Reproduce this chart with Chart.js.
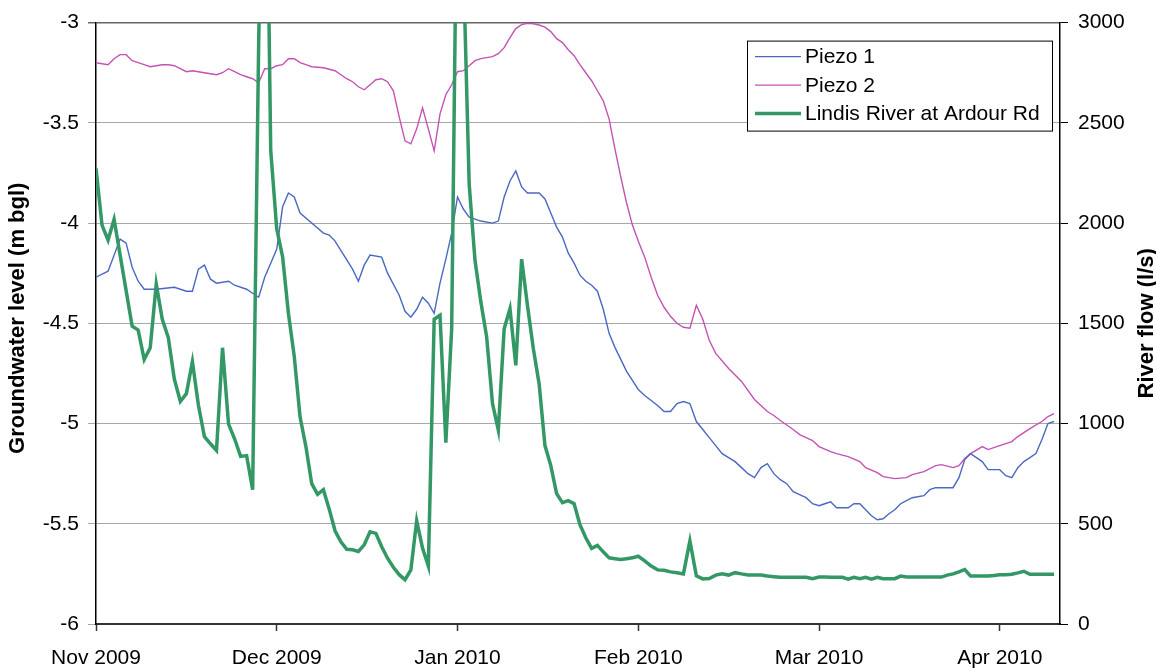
<!DOCTYPE html>
<html lang="en">
<head>
<meta charset="UTF-8" />
<title>Groundwater level and Lindis River flow</title>
<script src="https://cdn.jsdelivr.net/npm/chart.js@4.4.1/dist/chart.umd.min.js"></script>
<style>
  html, body { margin: 0; padding: 0; background: #fff; }
  .chart-container { width: 1156px; height: 670px; }
</style>
</head>
<body>
<div class="chart-container"><canvas id="flowChart"></canvas></div>
<script>
// x axis: one tick per month, months drawn equal width
const monthLabels = ["Nov 2009", "Dec 2009", "Jan 2010", "Feb 2010", "Mar 2010", "Apr 2010"];

// Piezo 1 groundwater level (m bgl)
const piezo1Dates = [
  "2009-11-01","2009-11-03","2009-11-04","2009-11-05","2009-11-06","2009-11-07","2009-11-08","2009-11-09","2009-11-11","2009-11-14",
  "2009-11-16","2009-11-17","2009-11-18","2009-11-19","2009-11-20","2009-11-21","2009-11-23","2009-11-24","2009-11-26","2009-11-27",
  "2009-11-28","2009-11-29","2009-11-30","2009-12-01","2009-12-02","2009-12-03","2009-12-04","2009-12-05","2009-12-07","2009-12-09",
  "2009-12-10","2009-12-11","2009-12-14","2009-12-15","2009-12-16","2009-12-17","2009-12-19","2009-12-20","2009-12-22","2009-12-23",
  "2009-12-24","2009-12-25","2009-12-26","2009-12-27","2009-12-28","2009-12-29","2009-12-30","2009-12-31","2010-01-01","2010-01-02",
  "2010-01-03","2010-01-04","2010-01-05","2010-01-07","2010-01-08","2010-01-09","2010-01-10","2010-01-11","2010-01-12","2010-01-13",
  "2010-01-14","2010-01-15","2010-01-16","2010-01-17","2010-01-18","2010-01-19","2010-01-20","2010-01-21","2010-01-22","2010-01-23",
  "2010-01-24","2010-01-25","2010-01-26","2010-01-27","2010-01-28","2010-01-29","2010-01-30","2010-01-31","2010-02-01","2010-02-02",
  "2010-02-03","2010-02-04","2010-02-05","2010-02-06","2010-02-07","2010-02-08","2010-02-09","2010-02-10","2010-02-11","2010-02-12",
  "2010-02-13","2010-02-14","2010-02-15","2010-02-16","2010-02-17","2010-02-18","2010-02-19","2010-02-20","2010-02-21","2010-02-22",
  "2010-02-23","2010-02-24","2010-02-25","2010-02-26","2010-02-27","2010-02-28","2010-03-01","2010-03-02","2010-03-03","2010-03-04",
  "2010-03-06","2010-03-07","2010-03-08","2010-03-09","2010-03-10","2010-03-11","2010-03-12","2010-03-13","2010-03-14","2010-03-15",
  "2010-03-16","2010-03-17","2010-03-19","2010-03-20","2010-03-21","2010-03-24","2010-03-25","2010-03-26","2010-03-27","2010-03-28",
  "2010-03-29","2010-03-30","2010-04-01","2010-04-02","2010-04-03","2010-04-04","2010-04-05","2010-04-06","2010-04-07","2010-04-08",
  "2010-04-09","2010-04-10"
];
const piezo1Level = [
  -4.27,-4.24,-4.16,-4.08,-4.10,-4.22,-4.29,-4.33,-4.33,-4.32,
  -4.34,-4.34,-4.23,-4.21,-4.28,-4.30,-4.29,-4.31,-4.33,-4.35,
  -4.37,-4.27,-4.20,-4.13,-3.92,-3.85,-3.87,-3.95,-4.00,-4.05,
  -4.06,-4.09,-4.23,-4.29,-4.21,-4.16,-4.17,-4.25,-4.36,-4.44,
  -4.47,-4.43,-4.37,-4.40,-4.45,-4.30,-4.18,-4.05,-3.87,-3.93,
  -3.97,-3.98,-3.99,-4.00,-3.99,-3.87,-3.79,-3.74,-3.82,-3.85,
  -3.85,-3.85,-3.88,-3.95,-4.02,-4.07,-4.15,-4.20,-4.26,-4.29,
  -4.31,-4.34,-4.43,-4.55,-4.62,-4.68,-4.74,-4.785,-4.83,-4.86,
  -4.885,-4.91,-4.94,-4.94,-4.90,-4.89,-4.90,-4.99,-5.03,-5.07,
  -5.11,-5.15,-5.17,-5.19,-5.22,-5.25,-5.27,-5.22,-5.20,-5.25,
  -5.28,-5.30,-5.34,-5.355,-5.37,-5.40,-5.41,-5.40,-5.39,-5.42,
  -5.42,-5.40,-5.40,-5.43,-5.46,-5.48,-5.475,-5.45,-5.43,-5.40,
  -5.385,-5.37,-5.36,-5.33,-5.32,-5.32,-5.27,-5.18,-5.15,-5.17,
  -5.19,-5.23,-5.23,-5.26,-5.27,-5.22,-5.19,-5.17,-5.15,-5.08,
  -5.00,-4.99
];

// Piezo 2 groundwater level (m bgl)
const piezo2Dates = [
  "2009-11-01","2009-11-03","2009-11-04","2009-11-05","2009-11-06","2009-11-07","2009-11-08","2009-11-09","2009-11-10","2009-11-12",
  "2009-11-13","2009-11-14","2009-11-15","2009-11-16","2009-11-17","2009-11-19","2009-11-20","2009-11-21","2009-11-22","2009-11-23",
  "2009-11-24","2009-11-25","2009-11-26","2009-11-27","2009-11-28","2009-11-29","2009-11-30","2009-12-01","2009-12-02","2009-12-03",
  "2009-12-04","2009-12-05","2009-12-06","2009-12-07","2009-12-09","2009-12-11","2009-12-12","2009-12-13","2009-12-14","2009-12-15",
  "2009-12-16","2009-12-17","2009-12-18","2009-12-19","2009-12-20","2009-12-21","2009-12-22","2009-12-23","2009-12-24","2009-12-25",
  "2009-12-26","2009-12-27","2009-12-28","2009-12-29","2009-12-30","2009-12-31","2010-01-01","2010-01-02","2010-01-03","2010-01-04",
  "2010-01-05","2010-01-07","2010-01-08","2010-01-09","2010-01-10","2010-01-11","2010-01-12","2010-01-13","2010-01-14","2010-01-15",
  "2010-01-16","2010-01-17","2010-01-18","2010-01-19","2010-01-20","2010-01-21","2010-01-22","2010-01-23","2010-01-24","2010-01-25",
  "2010-01-26","2010-01-27","2010-01-28","2010-01-29","2010-01-30","2010-01-31","2010-02-01","2010-02-02","2010-02-03","2010-02-04",
  "2010-02-05","2010-02-06","2010-02-07","2010-02-08","2010-02-09","2010-02-10","2010-02-11","2010-02-12","2010-02-13","2010-02-15",
  "2010-02-17","2010-02-19","2010-02-20","2010-02-21","2010-02-22","2010-02-23","2010-02-25","2010-02-26","2010-02-27","2010-02-28",
  "2010-03-01","2010-03-03","2010-03-04","2010-03-06","2010-03-08","2010-03-09","2010-03-11","2010-03-12","2010-03-14","2010-03-16",
  "2010-03-17","2010-03-19","2010-03-21","2010-03-22","2010-03-24","2010-03-25","2010-03-26","2010-03-27","2010-03-29","2010-03-30",
  "2010-04-01","2010-04-03","2010-04-04","2010-04-06","2010-04-08","2010-04-09","2010-04-10"
];
const piezo2Level = [
  -3.20,-3.21,-3.18,-3.16,-3.16,-3.19,-3.20,-3.21,-3.22,-3.21,
  -3.21,-3.215,-3.23,-3.245,-3.24,-3.25,-3.255,-3.26,-3.25,-3.23,
  -3.245,-3.26,-3.27,-3.28,-3.30,-3.23,-3.23,-3.215,-3.21,-3.18,
  -3.18,-3.20,-3.21,-3.22,-3.225,-3.24,-3.26,-3.28,-3.295,-3.32,
  -3.335,-3.31,-3.285,-3.28,-3.295,-3.34,-3.47,-3.59,-3.605,-3.53,
  -3.425,-3.53,-3.64,-3.455,-3.36,-3.31,-3.245,-3.24,-3.215,-3.19,
  -3.18,-3.17,-3.155,-3.125,-3.075,-3.03,-3.01,-3.003,-3.006,-3.012,
  -3.023,-3.045,-3.08,-3.10,-3.135,-3.165,-3.21,-3.25,-3.29,-3.34,
  -3.39,-3.48,-3.63,-3.77,-3.90,-4.01,-4.09,-4.17,-4.27,-4.36,
  -4.42,-4.465,-4.50,-4.52,-4.525,-4.41,-4.48,-4.585,-4.65,-4.725,
  -4.79,-4.88,-4.91,-4.94,-4.96,-4.985,-5.03,-5.055,-5.07,-5.085,
  -5.115,-5.14,-5.15,-5.165,-5.19,-5.22,-5.245,-5.265,-5.275,-5.27,
  -5.255,-5.24,-5.21,-5.205,-5.22,-5.21,-5.175,-5.15,-5.115,-5.13,
  -5.11,-5.09,-5.065,-5.025,-4.99,-4.965,-4.95
];

// Lindis River at Ardour Rd, daily flow (l/s), from 1 Nov 2009
const riverStart = [2009, 11, 1];
const riverNov = [2273,1990,1915,2019,1841,1663,1485,1466,1319,1378,1696,1520,1429,1222,1110,1149,1309,1091,934,899,866,1378,997,924,836,840,670,2900,4600,2362];
const riverDec = [1970,1833,1550,1335,1032,885,700,647,670,573,465,410,373,370,362,395,460,452,385,328,283,246,221,270,515,379,289,1520,1540,905,1472];
const riverJan = [4000,3300,2195,1814,1608,1432,1100,967,1472,1573,1290,1820,1589,1374,1198,890,790,650,605,615,600,495,430,377,392,360,330,326,322,326,330];
const riverFeb = [338,315,289,270,268,260,256,250,415,240,225,227,244,250,244,256,250,245,244,244,239,236,233,233,233,233,233,226];
const riverMar = [234,234,233,233,233,224,233,226,233,224,233,226,226,226,239,235,234,234,234,234,234,234,244,250,260,272,239,239,239,239,242];
const riverApr = [246,246,248,255,263,248,248,248,248,248];

const legendLabels = ["Piezo 1", "Piezo 2", "Lindis River at Ardour Rd"];
const axisTitles = ["Groundwater level (m bgl)", "River flow (l/s)"];

// position of a day on the month axis (each month one unit wide)
function monthPos(y, m, d) {
  const daysInMonth = new Date(y, m, 0).getDate();
  return (y - 2009) * 12 + (m - 11) + (d - 1) / daysInMonth;
}
function posOfString(s) {
  const [y, m, d] = s.split("-").map(Number);
  return monthPos(y, m, d);
}

const piezo1Points = piezo1Dates.map((s, i) => ({ x: posOfString(s), y: piezo1Level[i] }));
const piezo2Points = piezo2Dates.map((s, i) => ({ x: posOfString(s), y: piezo2Level[i] }));
const riverFlow = [].concat(riverNov, riverDec, riverJan, riverFeb, riverMar, riverApr);
const riverPoints = riverFlow.map((v, i) => {
  const dt = new Date(riverStart[0], riverStart[1] - 1, riverStart[2] + i);
  return { x: monthPos(dt.getFullYear(), dt.getMonth() + 1, dt.getDate()), y: v };
});

const colors = { piezo1: "#4a68c2", piezo2: "#c452b4", river: "#339865" };
const fontFamily = "'Liberation Sans', Arial, sans-serif";
Chart.defaults.font.family = fontFamily;
Chart.defaults.color = "#000";

// axis titles and the boxed legend inside the plot
const decorations = {
  id: "decorations",
  afterDraw(chart) {
    const { ctx, chartArea } = chart;
    const midY = (chartArea.top + chartArea.bottom) / 2;
    ctx.save();
    ctx.fillStyle = "#000";
    ctx.font = "bold 22px " + fontFamily;
    ctx.textAlign = "center";
    ctx.textBaseline = "middle";
    [[18, midY - 5, axisTitles[0]], [chart.width - 9, midY, axisTitles[1]]].forEach(([x, y, text]) => {
      ctx.save();
      ctx.translate(x, y);
      ctx.rotate(-Math.PI / 2);
      ctx.fillText(text, 0, 0);
      ctx.restore();
    });

    const boxW = 305, boxH = 90;
    const bx = chartArea.right - 8 - boxW, by = chartArea.top + 18;
    ctx.fillStyle = "#fff";
    ctx.fillRect(bx, by, boxW, boxH);
    ctx.strokeStyle = "#000";
    ctx.lineWidth = 1;
    ctx.strokeRect(bx + 0.5, by + 0.5, boxW, boxH);
    ctx.font = "21px " + fontFamily;
    ctx.textAlign = "left";
    chart.data.datasets.forEach((ds) => {
      const row = legendLabels.indexOf(ds.label);
      const y = by + 16 + row * 28.5;
      ctx.strokeStyle = ds.borderColor;
      ctx.lineWidth = ds.borderWidth;
      ctx.beginPath();
      ctx.moveTo(bx + 8, y);
      ctx.lineTo(bx + 54, y);
      ctx.stroke();
      ctx.fillStyle = "#000";
      ctx.fillText(ds.label, bx + 58, y + 1);
    });
    ctx.restore();
  }
};

new Chart(document.getElementById("flowChart"), {
  type: "line",
  data: {
    datasets: [
      { label: legendLabels[2], data: riverPoints, yAxisID: "y1", borderColor: colors.river, borderWidth: 3.5, order: 0 },
      { label: legendLabels[0], data: piezo1Points, yAxisID: "y", borderColor: colors.piezo1, borderWidth: 1.4, order: 1 },
      { label: legendLabels[1], data: piezo2Points, yAxisID: "y", borderColor: colors.piezo2, borderWidth: 1.4, order: 2 }
    ]
  },
  options: {
    responsive: true,
    maintainAspectRatio: false,
    animation: false,
    parsing: false,
    elements: { point: { radius: 0 }, line: { tension: 0, fill: false } },
    layout: { padding: { top: 22 } },
    plugins: { legend: { display: false }, tooltip: { enabled: false } },
    scales: {
      x: {
        type: "linear",
        min: 0,
        max: 5 + 10 / 30,
        afterBuildTicks: (s) => { s.ticks = monthLabels.map((_, i) => ({ value: i })); },
        afterFit: (s) => { s.height = 46; },
        ticks: { callback: (v) => monthLabels[v], font: { size: 21 }, padding: 15, maxRotation: 0, autoSkip: false },
        grid: { drawOnChartArea: false, tickLength: 7, tickColor: "#333", tickWidth: 1.5 },
        border: { color: "#333", width: 2 }
      },
      y: {
        position: "left",
        min: -6,
        max: -3,
        afterFit: (s) => { s.width = 96; },
        ticks: { stepSize: 0.5, font: { size: 21 }, padding: 9, callback: (v) => String(v) },
        grid: {
          color: (c) => (c.tick && c.tick.value === -3 ? "#666" : "#a8a8a8"),
          lineWidth: (c) => (c.tick && c.tick.value === -3 ? 1.5 : 1),
          tickLength: 8
        },
        border: { color: "#000", width: 1.5 }
      },
      y1: {
        position: "right",
        min: 0,
        max: 3000,
        afterFit: (s) => { s.width = 96; },
        ticks: { stepSize: 500, font: { size: 21 }, padding: 10, callback: (v) => String(v) },
        grid: { drawOnChartArea: false, tickLength: 8, tickColor: "#000" },
        border: { color: "#000", width: 1.5 }
      }
    }
  },
  plugins: [decorations]
});
</script>
</body>
</html>
